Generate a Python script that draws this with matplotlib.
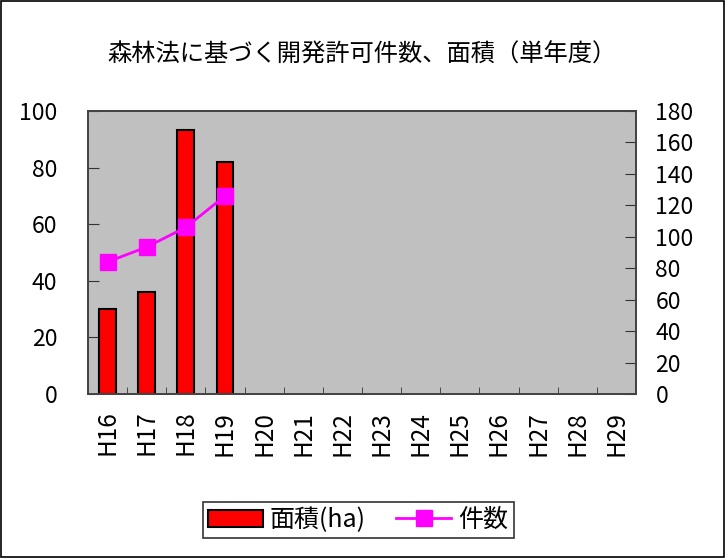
import matplotlib
matplotlib.use("Agg")
import matplotlib.pyplot as plt
import numpy as np
from matplotlib.lines import Line2D
from matplotlib.patches import Patch, Rectangle

plt.rcParams['font.family'] = ['Noto Sans CJK JP', 'DejaVu Sans']

categories = ["H16", "H17", "H18", "H19", "H20", "H21", "H22", "H23",
              "H24", "H25", "H26", "H27", "H28", "H29"]
area_ha = [30, 36, 93.3, 82]
counts = [84, 93.5, 106, 126]
left_ticks = [0, 20, 40, 60, 80, 100]
right_ticks = [0, 20, 40, 60, 80, 100, 120, 140, 160, 180]
title = "森林法に基づく開発許可件数、面積（単年度）"

fig = plt.figure(figsize=(7.25, 5.58), dpi=100)
fig.patches.append(Rectangle((0.001, 0.001), 0.997, 0.997, transform=fig.transFigure,
                             fill=False, edgecolor='black', linewidth=1.2))

ax = fig.add_axes([88/725, 1-394/558, (636-88)/725, (394-111)/558])
ax.set_facecolor('#C0C0C0')
x = np.arange(len(categories))
ax.bar(x[:len(area_ha)], area_ha, width=0.43, color='#FF0000', edgecolor='black',
       linewidth=1.5, zorder=2)
ax.set_xlim(-0.5, len(categories)-0.5)
ax.set_ylim(0, 100)
ax.set_yticks(left_ticks)
ax.set_xticks(x)
ax.set_xticklabels(categories, rotation=90, fontsize=17.5)
ax.tick_params(axis='x', length=0, pad=12)
ax.set_xticks(np.arange(len(categories)+1)-0.5, minor=True)
ax.tick_params(axis='x', which='minor', direction='in', length=5, color='#333333')
ax.tick_params(axis='y', direction='in', length=8, labelsize=16.5, pad=22, color='#333333')
for s in ax.spines.values():
    s.set_color('#444444')
    s.set_linewidth(1.3)

ax2 = ax.twinx()
ax2.plot(x[:len(counts)], counts, color='#FF00FF', linewidth=2, marker='s',
         markersize=11, zorder=3)
ax2.set_ylim(0, 180)
ax2.set_yticks(right_ticks)
ax2.tick_params(axis='y', direction='in', length=8, labelsize=16.5, pad=14, color='#333333')
for s in ax2.spines.values():
    s.set_color('#444444')
    s.set_linewidth(1.3)

fig.text(362/725, 1-55/558, title, ha='center', va='center', fontsize=17.5)

handles = [Patch(facecolor='#FF0000', edgecolor='black', linewidth=1.5),
           Line2D([0], [0], color='#FF00FF', linewidth=2, marker='s', markersize=11)]
leg = fig.legend(handles, ["面積(ha)", "件数"], loc='center',
                 bbox_to_anchor=(358/725, 1-520/558), ncol=2, fontsize=18,
                 frameon=True, fancybox=False, edgecolor='black',
                 handlelength=2.2, handletextpad=0.3, columnspacing=1.2,
                 borderpad=0.2)
leg.get_frame().set_linewidth(1.2)

fig.savefig("out.png", dpi=100)
